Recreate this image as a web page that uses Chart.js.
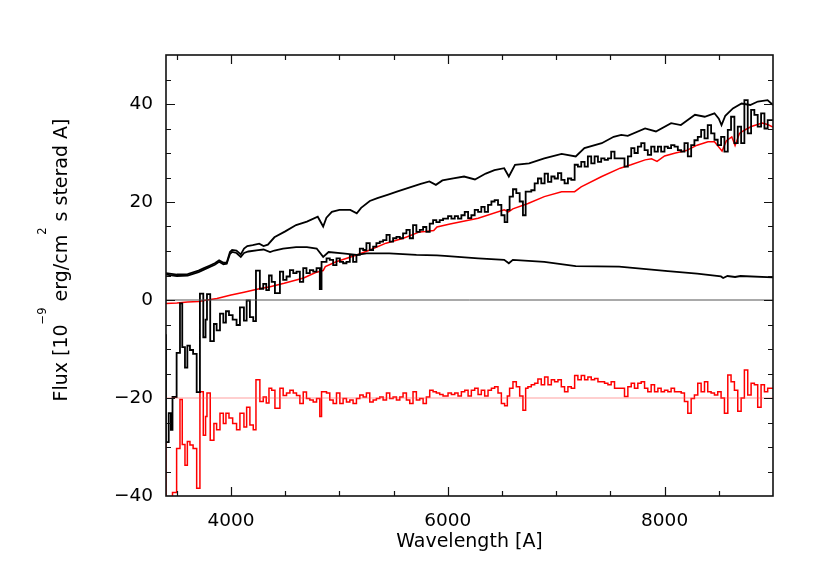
<!DOCTYPE html>
<html><head><meta charset="utf-8">
<script src="https://cdn.jsdelivr.net/npm/chart.js@4.4.0/dist/chart.umd.min.js"></script>
<style>html,body{margin:0;padding:0;background:#fff;}#wrap{width:830px;height:581px;}</style>
</head><body><div id="wrap"><canvas id="c" width="830" height="581"></canvas></div>
<script>
// ---- axis ranges, ticks and labels ----
const waveMin = 3400, waveMax = 9000;
const fluxMin = -40, fluxMax = 50;
const xTickValues = [3500, 4000, 4500, 5000, 5500, 6000, 6500, 7000, 7500, 8000, 8500];
const yTickValues = [-35, -30, -25, -20, -15, -10, -5, 0, 5, 10, 15, 20, 25, 30, 35, 40, 45];
const xTickLabels = [4000, 6000, 8000];
const yTickLabels = [-40, -20, 0, 20, 40];
const xTitle = 'Wavelength [A]';
const yTitleParts = ['Flux [10', '\u22129', ' erg/cm', '2', ' s sterad A]'];
const refLevels = [0, -20];

// ---- binned observed spectrum (left bin edges) and residual (offset -20) ----
const binEdges = [3400,3425,3445,3460,3498,3529,3550,3575,3597,3621,3650,3683,3713,3744,3765,3778,3808,3842,3867,3898,3929,3953,3981,4015,4051,4082,4119,4144,4174,4205,4230,4266,4297,4325,4350,4375,
4405,4451,4481,4512,4543,4574,4604,4635,4666,4696,4727,4758,4789,4819,4835,4881,4911,4942,4973,5004,5034,5065,5096,5126,5157,5188,5219,5249,5280,5311,5341,5372,5403,5434,5464,5495,5526,5557,5587,5618,5649,5679,5710,5741,5772,5802,5833,5864,5894,5925,5956,
6002,6033,6064,6094,6125,6156,6187,6217,6248,6279,6309,6340,6371,6402,6432,6463,6494,6524,6549,6570,6601,6632,6663,6693,6718,6739,6770,6801,6831,6862,6893,6924,6955,6985,7016,7047,7077,7108,7139,7170,7200,7231,7262,7292,7323,7354,7385,7415,7446,7477,7507,
7538,7569,7600,7630,7661,7692,7722,7753,7784,7815,7845,7876,7907,7938,7968,7999,8030,8060,8091,8122,8153,8183,8214,8245,8275,8306,8337,8368,8398,8429,8460,8490,8521,8552,8583,8613,8644,8675,8706,8736,8767,8798,8828,8859,8890,8921,8951,8982];
const obsFlux = [-7,-29,-23.1,-26.5,-19.8,-10.8,-0.7,-9.6,-13.8,-9.3,-10.2,-11.0,-18.8,1.3,-7.6,-4.0,1.2,-8.4,-4.9,-6.2,-2.8,-4.6,-2.3,-3.1,-4.0,-5.1,-1.5,-4.2,-0.1,-3.5,-4.3,6.0,2.3,3.3,2.0,5.0,
3.7,1.4,5.8,4.1,4.8,6.1,5.5,5.8,3.7,6.5,5.5,6.1,5.8,6.5,2.2,7.8,8.5,8.2,7.1,8.5,7.8,7.5,7.8,9.2,7.8,9.2,10.5,10.2,11.6,10.2,10.9,11.6,11.9,12.2,13.3,11.9,12.6,12.9,12.6,13.6,14.3,12.6,15.3,13.9,14.3,14.9,13.9,15.6,16.3,15.9,16.3,
16.6,17.1,16.6,17.1,16.6,17.3,18.0,16.7,17.3,18.4,18.0,19.0,18.0,19.4,20.1,20.4,19.4,17.3,15.9,18.4,21.1,22.6,21.8,20.1,17.3,22.1,22.1,22.4,23.8,24.8,23.8,25.8,24.1,25.2,24.8,25.9,24.5,23.8,24.8,24.5,27.6,27.2,28.2,27.2,29.3,27.9,29.3,28.2,28.9,28.6,28.9,
30.3,28.9,28.9,28.9,27.2,29.3,31.0,30.0,31.3,32.0,30.6,29.6,31.3,30.3,31.3,30.3,31.3,31.0,31.6,31.3,30.6,30.3,32.0,29.3,31.6,32.6,33.3,34.7,33.0,35.7,34.0,32.7,31.6,33.3,30.3,34.7,37.4,32.0,35.4,32.0,40.8,34.0,38.8,37.8,35.4,38.1,35.0,36.7];
const residFlux = [-26,-46,-43,-46,-39.3,-30.3,-20.3,-29.5,-33.7,-28.9,-29.6,-30.3,-38.4,-18.7,-27.6,-23.8,-19.0,-28.6,-25.2,-26.5,-23.1,-25.2,-23.1,-24.1,-25.2,-26.5,-23.1,-25.9,-21.9,-25.5,-26.5,-16.3,-20.7,-19.8,-21.0,-18.0,
-18.4,-22.1,-18.0,-19.5,-19.0,-18.4,-19.0,-19.5,-21.1,-18.8,-20.1,-20.4,-20.8,-20.1,-23.8,-18.7,-19.0,-20.4,-21.1,-19.0,-21.1,-20.1,-20.8,-20.4,-21.1,-20.1,-19.4,-19.8,-19.0,-20.8,-20.4,-20.1,-19.8,-20.4,-19.0,-20.1,-19.8,-20.4,-19.8,-19.0,-20.4,-21.1,-18.7,-20.4,-20.1,-21.1,-19.8,-18.4,-18.7,-19.0,-19.3,
-19.6,-19.0,-19.3,-19.0,-19.6,-18.7,-18.4,-19.6,-18.4,-18.0,-19.3,-18.4,-19.6,-18.4,-18.0,-17.7,-19.0,-21.1,-21.6,-19.6,-18.0,-16.7,-17.7,-19.6,-22.5,-18.0,-17.7,-17.3,-17.0,-16.1,-17.3,-15.7,-17.3,-16.3,-16.7,-16.3,-17.7,-18.7,-17.7,-18.0,-15.4,-16.3,-15.4,-16.3,-15.7,-16.3,-16.0,-16.7,-16.7,-17.0,-17.3,
-16.7,-18.0,-18.0,-18.0,-19.7,-17.7,-17.0,-18.0,-17.0,-16.7,-18.0,-18.7,-17.3,-18.7,-18.0,-18.7,-18.4,-18.7,-18.0,-18.7,-18.7,-19.0,-20.7,-23.1,-20.1,-19.4,-17.0,-18.7,-16.7,-18.7,-19.0,-19.4,-18.7,-20.0,-23.1,-15.3,-16.7,-18.4,-22.7,-20.0,-14.3,-19.4,-17.0,-17.3,-21.9,-17.3,-18.7,-18.0];

// ---- smooth spectra ----
const upperWave = [3400,3500,3600,3700,3750,3800,3850,3890,3930,3960,3990,4010,4050,4090,4120,4150,4200,4260,4300,4340,4400,4500,4600,4700,4800,4850,4880,4930,5000,5100,5160,5200,5280,5350,5450,5530,5650,5750,5830,5890,5950,6050,6150,6250,6350,6430,6520,6563,6620,6750,6890,7050,7180,7260,7420,7530,7600,7660,7820,7920,8060,8150,8280,8370,8460,8500,8525,8560,8630,8710,8790,8860,8950,9000];
const upperFlux = [5.5,5.2,5.3,6.0,6.5,7.0,7.5,8.1,7.6,7.6,9.8,10.2,10.1,9.3,10.5,11.0,11.2,11.5,11.0,11.3,12.8,14.0,15.3,16.0,17.0,15.0,16.8,18.0,18.4,18.4,17.7,18.8,20.2,20.8,21.5,22.1,23.0,23.7,24.2,23.5,24.4,24.8,25.2,24.6,25.8,26.5,26.9,25.2,27.6,27.9,28.9,29.8,29.3,31.0,32.0,33.3,33.7,33.5,35.0,34.4,36.1,35.7,37.8,37.4,38.1,37.0,35.7,37.6,39.1,40.1,39.8,40.5,40.8,39.8];
const lowerWave = [3400,3500,3600,3700,3750,3800,3850,3890,3930,3960,3990,4010,4050,4090,4120,4160,4250,4300,4360,4400,4480,4600,4700,4790,4850,4900,5030,5160,5250,5350,5460,5710,5900,5970,6280,6520,6563,6600,6890,7180,7580,8030,8300,8520,8540,8580,8650,8700,9000];
const lowerFlux = [5.2,4.9,5.0,5.7,6.2,6.7,7.2,7.8,7.3,7.4,9.4,9.8,9.6,8.8,9.6,9.9,10.2,10.3,9.8,10.1,10.5,10.8,10.8,10.5,8.8,9.8,9.5,9.2,9.5,9.5,9.5,9.2,9.1,9.0,8.5,8.2,7.5,8.2,7.8,6.9,6.8,5.9,5.4,4.8,4.5,4.9,4.7,4.9,4.6];
const modelWave = [3400,3500,3600,3700,3780,3870,4000,4120,4240,4360,4490,4670,4780,4850,4870,4970,5160,5280,5430,5590,5740,5790,5870,5900,6020,6280,6520,6560,6600,6740,6890,7050,7170,7230,7420,7590,7690,7820,7880,7930,8000,8100,8200,8300,8400,8460,8500,8530,8570,8620,8650,8690,8740,8800,8900,8950,9000];
const modelFlux = [-0.7,-0.6,-0.4,-0.3,0.0,0.3,1.0,1.6,2.2,2.7,3.4,4.5,5.6,6.0,6.8,7.8,9.2,10.2,11.6,12.6,13.9,14.0,14.2,14.9,15.5,16.7,18.4,18.0,18.6,19.7,21.1,22.1,22.1,23.1,25.2,26.9,27.6,28.6,28.8,28.3,29.4,30.0,30.5,31.6,32.3,32.3,31.2,30.4,32.5,33.3,31.5,34.0,34.7,35.4,36.1,35.8,35.3];

// ---- helpers ----
const pts = (xs, ys) => xs.map((x, i) => ({x: x, y: ys[i]}));
const hist = (edges, ys) => pts(edges, ys).concat([{x: waveMax, y: ys[ys.length - 1]}]);
const minus = v => (v < 0 ? '\u2212' + Math.abs(v) : String(v));
const FONT = '"DejaVu Sans", sans-serif';

const framePlugin = {
  id: 'frame',
  afterDatasetsDraw(chart) {
    const ctx = chart.ctx, a = chart.chartArea;
    const xs = chart.scales.x, ys = chart.scales.y;
    ctx.save();
    ctx.strokeStyle = '#111';
    ctx.lineWidth = 1.6;
    ctx.strokeRect(a.left, a.top, a.right - a.left, a.bottom - a.top);
    ctx.lineWidth = 1.2;
    ctx.beginPath();
    xTickValues.forEach(v => {
      const len = xTickLabels.includes(v) ? 9 : 5;
      const px = Math.round(xs.getPixelForValue(v)) + 0.5;
      ctx.moveTo(px, a.bottom); ctx.lineTo(px, a.bottom - len);
      ctx.moveTo(px, a.top); ctx.lineTo(px, a.top + len);
    });
    yTickValues.forEach(v => {
      const len = yTickLabels.includes(v) ? 9 : 5;
      const py = Math.round(ys.getPixelForValue(v)) + 0.5;
      ctx.moveTo(a.left, py); ctx.lineTo(a.left + len, py);
      ctx.moveTo(a.right, py); ctx.lineTo(a.right - len, py);
    });
    ctx.stroke();
    ctx.restore();
  },
  afterDraw(chart) {
    const ctx = chart.ctx, a = chart.chartArea;
    ctx.save();
    ctx.fillStyle = '#000';
    ctx.font = '19px ' + FONT;
    ctx.textAlign = 'center';
    ctx.textBaseline = 'alphabetic';
    ctx.fillText(xTitle, (a.left + a.right) / 2, 547);
    const big = '19px ' + FONT, small = '11.5px ' + FONT;
    const widths = yTitleParts.map((s, i) => { ctx.font = (i % 2 ? small : big); return ctx.measureText(s).width; });
    const total = widths.reduce((p, c) => p + c, 0);
    ctx.translate(66.5, 260);
    ctx.rotate(-Math.PI / 2);
    ctx.textAlign = 'left';
    let x = -total / 2;
    yTitleParts.forEach((s, i) => {
      ctx.font = (i % 2 ? small : big);
      ctx.fillText(s, x, i % 2 ? -21 : 0);
      x += widths[i];
    });
    ctx.restore();
  }
};

const ds = (data, color, width, stepped) => ({
  data: data, borderColor: color, borderWidth: width, pointRadius: 0,
  fill: false, tension: 0, stepped: stepped || false, borderJoinStyle: 'miter'
});

new Chart(document.getElementById('c'), {
  type: 'line',
  data: {
    datasets: [
      ds([{x: waveMin, y: refLevels[0]}, {x: waveMax, y: refLevels[0]}], '#555', 1),
      ds([{x: waveMin, y: refLevels[1]}, {x: waveMax, y: refLevels[1]}], 'rgba(255,80,80,0.55)', 1),
      ds(pts(upperWave, upperFlux), '#000', 1.8),
      ds(pts(lowerWave, lowerFlux), '#000', 1.8),
      ds(hist(binEdges, obsFlux), '#000', 1.8, 'after'),
      ds(pts(modelWave, modelFlux), '#ff0000', 1.5),
      ds(hist(binEdges, residFlux), '#ff0000', 1.5, 'after')
    ]
  },
  options: {
    responsive: false, animation: false, devicePixelRatio: 1,
    layout: {padding: {top: 55, right: 57, left: 0, bottom: 0}},
    plugins: {legend: {display: false}, tooltip: {enabled: false}},
    scales: {
      x: {
        type: 'linear', min: waveMin, max: waveMax,
        grid: {display: false, drawTicks: false}, border: {display: false},
        afterFit: s => { s.height = 85; },
        afterBuildTicks: s => { s.ticks = xTickLabels.map(v => ({value: v})); },
        ticks: {
          autoSkip: false, maxRotation: 0, minRotation: 0, padding: 14,
          color: '#000', font: {family: FONT, size: 18.5},
          callback: v => String(v)
        }
      },
      y: {
        type: 'linear', min: fluxMin, max: fluxMax,
        grid: {display: false, drawTicks: false}, border: {display: false},
        afterFit: s => { s.width = 166; },
        afterBuildTicks: s => { s.ticks = yTickLabels.map(v => ({value: v})); },
        ticks: {
          autoSkip: false, padding: 13,
          color: '#000', font: {family: FONT, size: 18.5},
          callback: v => minus(v)
        }
      }
    }
  },
  plugins: [framePlugin]
});
</script></body></html>
